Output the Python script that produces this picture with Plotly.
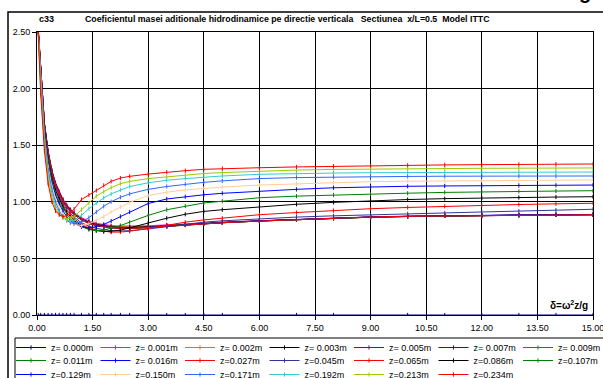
import plotly.graph_objects as go

# x grid (delta = omega^2 z / g)
x_vals = [0.03, 0.1, 0.2, 0.3, 0.4, 0.5, 0.6, 0.7, 0.8, 0.9, 1.0, 1.2, 1.4, 1.6, 1.8, 2.0,
          2.25, 2.5, 3.0, 3.5, 4.0, 4.5, 5.0, 6, 7, 8, 9, 10, 11, 12, 13, 14, 15]

z_labels = ["z= 0.000m", "z= 0.001m", "z= 0.002m", "z= 0.003m", "z= 0.005m", "z= 0.007m",
            "z= 0.009m", "z= 0.011m", "z= 0.016m", "z=0.027m", "z=0.045m", "z=0.065m",
            "z=0.086m", "z=0.107m", "z=0.129m", "z=0.150m", "z=0.171m", "z=0.192m",
            "z=0.213m", "z=0.234m"]

colors = ["#000080", "#FF00FF", "#FF6600", "#000000", "#800080", "#800000", "#008080",
          "#008000", "#0000FF", "#FF0000", "#333399", "#FF0000", "#000000", "#008000",
          "#0000FF", "#FFCC99", "#3366FF", "#33CCCC", "#99CC00", "#FF0000"]

c_z000 = [0.0] * 33
c_z001 = [2.55, 2.18, 1.70, 1.45, 1.28, 1.17, 1.09, 1.025, 0.975, 0.935, 0.905, 0.86, 0.83, 0.81, 0.797, 0.79, 0.785, 0.784, 0.788, 0.796, 0.805, 0.813, 0.82, 0.833, 0.845, 0.856, 0.865, 0.871, 0.876, 0.879, 0.882, 0.884, 0.886]
c_z002 = [2.55, 2.18, 1.70, 1.45, 1.28, 1.165, 1.085, 1.02, 0.97, 0.93, 0.90, 0.855, 0.825, 0.805, 0.792, 0.785, 0.78, 0.779, 0.784, 0.793, 0.803, 0.811, 0.819, 0.832, 0.845, 0.856, 0.865, 0.871, 0.876, 0.879, 0.882, 0.884, 0.886]
c_z003 = [2.54, 2.17, 1.69, 1.44, 1.275, 1.16, 1.08, 1.015, 0.965, 0.925, 0.895, 0.85, 0.82, 0.80, 0.787, 0.78, 0.775, 0.774, 0.78, 0.79, 0.80, 0.809, 0.817, 0.831, 0.844, 0.855, 0.864, 0.871, 0.876, 0.879, 0.882, 0.884, 0.886]
c_z005 = [2.54, 2.17, 1.69, 1.44, 1.27, 1.16, 1.08, 1.01, 0.96, 0.92, 0.89, 0.845, 0.815, 0.795, 0.783, 0.776, 0.771, 0.77, 0.776, 0.787, 0.798, 0.808, 0.816, 0.83, 0.843, 0.855, 0.864, 0.87, 0.875, 0.879, 0.882, 0.884, 0.886]
c_z007 = [2.53, 2.17, 1.69, 1.435, 1.265, 1.155, 1.075, 1.01, 0.96, 0.92, 0.888, 0.843, 0.813, 0.793, 0.78, 0.773, 0.768, 0.768, 0.774, 0.785, 0.797, 0.807, 0.815, 0.83, 0.843, 0.855, 0.864, 0.87, 0.875, 0.879, 0.882, 0.884, 0.886]
c_z009 = [2.53, 2.16, 1.685, 1.43, 1.265, 1.15, 1.07, 1.005, 0.957, 0.917, 0.886, 0.841, 0.811, 0.791, 0.778, 0.771, 0.766, 0.766, 0.773, 0.784, 0.796, 0.806, 0.815, 0.83, 0.843, 0.855, 0.865, 0.871, 0.876, 0.879, 0.882, 0.885, 0.887]
c_z011 = [2.53, 2.16, 1.685, 1.43, 1.26, 1.15, 1.07, 1.005, 0.956, 0.916, 0.885, 0.84, 0.81, 0.79, 0.777, 0.77, 0.765, 0.765, 0.772, 0.783, 0.795, 0.806, 0.815, 0.83, 0.843, 0.855, 0.865, 0.871, 0.876, 0.88, 0.883, 0.885, 0.887]
c_z016 = [2.52, 2.16, 1.68, 1.43, 1.26, 1.15, 1.07, 1.005, 0.955, 0.915, 0.885, 0.84, 0.81, 0.79, 0.778, 0.771, 0.767, 0.767, 0.774, 0.785, 0.797, 0.808, 0.817, 0.832, 0.845, 0.857, 0.867, 0.873, 0.878, 0.881, 0.884, 0.886, 0.888]
c_z027 = [2.52, 2.16, 1.68, 1.43, 1.26, 1.15, 1.07, 1.005, 0.955, 0.915, 0.885, 0.84, 0.81, 0.79, 0.778, 0.77, 0.765, 0.765, 0.772, 0.783, 0.795, 0.806, 0.815, 0.83, 0.843, 0.855, 0.866, 0.872, 0.876, 0.879, 0.882, 0.884, 0.886]
c_z045 = [2.52, 2.15, 1.66, 1.41, 1.24, 1.13, 1.05, 0.985, 0.935, 0.895, 0.865, 0.815, 0.785, 0.765, 0.752, 0.745, 0.742, 0.745, 0.76, 0.78, 0.80, 0.82, 0.832, 0.851, 0.865, 0.876, 0.886, 0.894, 0.902, 0.91, 0.918, 0.926, 0.934]
c_z065 = [2.52, 2.14, 1.65, 1.39, 1.23, 1.115, 1.035, 0.97, 0.92, 0.88, 0.85, 0.80, 0.77, 0.75, 0.738, 0.732, 0.733, 0.74, 0.765, 0.795, 0.82, 0.84, 0.855, 0.886, 0.905, 0.923, 0.939, 0.95, 0.96, 0.969, 0.976, 0.982, 0.987]
c_z086 = [2.52, 2.13, 1.64, 1.38, 1.21, 1.10, 1.02, 0.955, 0.905, 0.865, 0.835, 0.79, 0.76, 0.745, 0.738, 0.74, 0.75, 0.77, 0.815, 0.855, 0.89, 0.915, 0.93, 0.957, 0.978, 0.995, 1.010, 1.02, 1.028, 1.034, 1.038, 1.042, 1.045]
c_z107 = [2.52, 2.12, 1.62, 1.36, 1.19, 1.08, 1.0, 0.94, 0.89, 0.85, 0.82, 0.78, 0.755, 0.745, 0.75, 0.765, 0.79, 0.82, 0.88, 0.93, 0.963, 0.99, 1.005, 1.036, 1.05, 1.06, 1.069, 1.076, 1.083, 1.089, 1.092, 1.095, 1.098]
c_z129 = [2.52, 2.10, 1.60, 1.33, 1.17, 1.06, 0.98, 0.92, 0.87, 0.835, 0.81, 0.78, 0.77, 0.78, 0.80, 0.83, 0.87, 0.91, 0.985, 1.025, 1.045, 1.062, 1.075, 1.095, 1.11, 1.124, 1.133, 1.137, 1.14, 1.142, 1.144, 1.146, 1.148]
c_z150 = [2.52, 2.08, 1.58, 1.31, 1.14, 1.03, 0.95, 0.89, 0.85, 0.82, 0.80, 0.79, 0.805, 0.835, 0.87, 0.91, 0.955, 0.995, 1.055, 1.085, 1.105, 1.12, 1.13, 1.148, 1.16, 1.17, 1.178, 1.182, 1.185, 1.187, 1.189, 1.191, 1.193]
c_z171 = [2.52, 2.06, 1.56, 1.28, 1.11, 1.0, 0.92, 0.87, 0.835, 0.815, 0.81, 0.82, 0.86, 0.91, 0.96, 1.0, 1.04, 1.07, 1.11, 1.135, 1.155, 1.172, 1.185, 1.205, 1.214, 1.219, 1.222, 1.224, 1.226, 1.227, 1.228, 1.228, 1.228]
c_z192 = [2.52, 2.03, 1.53, 1.25, 1.08, 0.97, 0.90, 0.86, 0.84, 0.83, 0.835, 0.88, 0.94, 0.99, 1.035, 1.07, 1.105, 1.135, 1.168, 1.19, 1.205, 1.218, 1.228, 1.243, 1.25, 1.254, 1.257, 1.259, 1.26, 1.261, 1.262, 1.263, 1.263]
c_z213 = [2.52, 2.0, 1.50, 1.21, 1.04, 0.94, 0.89, 0.86, 0.85, 0.855, 0.87, 0.93, 0.99, 1.05, 1.09, 1.125, 1.16, 1.18, 1.205, 1.222, 1.237, 1.25, 1.258, 1.272, 1.28, 1.286, 1.29, 1.293, 1.295, 1.296, 1.297, 1.298, 1.299]
c_z234 = [2.5, 1.95, 1.45, 1.16, 1.0, 0.92, 0.885, 0.87, 0.875, 0.90, 0.935, 1.02, 1.06, 1.10, 1.145, 1.18, 1.21, 1.225, 1.245, 1.262, 1.275, 1.287, 1.293, 1.301, 1.308, 1.314, 1.319, 1.323, 1.326, 1.328, 1.330, 1.332, 1.334]

series = [c_z000, c_z001, c_z002, c_z003, c_z005, c_z007, c_z009, c_z011, c_z016, c_z027,
          c_z045, c_z065, c_z086, c_z107, c_z129, c_z150, c_z171, c_z192, c_z213, c_z234]

x_ticks = [0, 1.5, 3, 4.5, 6, 7.5, 9, 10.5, 12, 13.5, 15]
y_ticks = [0, 0.5, 1.0, 1.5, 2.0, 2.5]

FONT = "Liberation Sans, Arial, sans-serif"
W, H = 603, 378
ML, MR, MT, MB = 37, 10, 32, 63
PW, PH = W - ML - MR, H - MT - MB

def px_x(p):
    return (p - ML) / PW

def px_y(p):
    return (H - MB - p) / PH

legend_ids = ["legend", "legend2", "legend3"]

fig = go.Figure()
for i, (name, col, ys) in enumerate(zip(z_labels, colors, series)):
    fig.add_trace(go.Scatter(
        x=x_vals, y=ys, name=name, mode="lines+markers",
        line=dict(color=col, width=1),
        marker=dict(symbol="line-ns-open", size=3, color=col, line=dict(color=col, width=1)),
        legend=legend_ids[i // 7],
    ))

def legend_row(top_px):
    return dict(
        orientation="h", x=px_x(11), xanchor="left", y=px_y(top_px), yanchor="top",
        borderwidth=0, bgcolor="rgba(0,0,0,0)",
        entrywidth=39.5, entrywidthmode="pixels",
        font=dict(family=FONT, size=9), traceorder="normal",
    )

fig.update_layout(
    width=W, height=H,
    margin=dict(l=ML, r=MR, t=MT, b=MB, autoexpand=False),
    paper_bgcolor="white", plot_bgcolor="white",
    font=dict(family=FONT, size=9, color="black"),
    showlegend=True,
    legend=legend_row(333),
    legend2=legend_row(346),
    legend3=legend_row(360),
    xaxis=dict(
        range=[0, 15], tickvals=x_ticks, tickformat=".2f",
        showgrid=True, gridcolor="black", gridwidth=1,
        showline=True, linecolor="black", linewidth=1, mirror=True,
        ticks="outside", ticklen=4, tickcolor="black", zeroline=False,
        tickfont=dict(family=FONT, size=9), ticklabeloverflow="allow",
    ),
    yaxis=dict(
        range=[0, 2.5], tickvals=y_ticks, tickformat=".2f",
        showgrid=True, gridcolor="black", gridwidth=1,
        showline=True, linecolor="black", linewidth=1, mirror=True,
        ticks="outside", ticklen=4, tickcolor="black", zeroline=False,
        tickfont=dict(family=FONT, size=9), ticklabeloverflow="allow",
    ),
    shapes=[
        dict(type="rect", xref="paper", yref="paper",
             x0=px_x(8), x1=px_x(640), y0=px_y(420), y1=px_y(12),
             line=dict(color="black", width=1.5), fillcolor="rgba(0,0,0,0)", layer="below"),
        dict(type="rect", xref="paper", yref="paper",
             x0=px_x(15), x1=px_x(640), y0=px_y(420), y1=px_y(338),
             line=dict(color="black", width=1), fillcolor="rgba(0,0,0,0)", layer="below"),
    ],
    annotations=[
        dict(text="<b>c33</b>", xref="paper", yref="paper", x=px_x(37), y=px_y(19),
             xanchor="left", yanchor="middle", showarrow=False, font=dict(family=FONT, size=9)),
        dict(text="<b>Coeficientul masei aditionale hidrodinamice pe directie verticala\u00a0\u00a0\u00a0Sectiunea\u00a0\u00a0x/L=0.5\u00a0\u00a0Model ITTC</b>",
             xref="paper", yref="paper", x=px_x(83), y=px_y(19),
             xanchor="left", yanchor="middle", showarrow=False, font=dict(family=FONT, size=8.8)),
        dict(text="<b>δ=ω<sup>2</sup>z/g</b>", xref="paper", yref="paper", x=px_x(590), y=px_y(305),
             xanchor="right", yanchor="middle", showarrow=False, font=dict(family=FONT, size=10)),
        dict(text="<b>g</b>", xref="paper", yref="paper", x=px_x(585), y=px_y(-8),
             xanchor="center", yanchor="middle", showarrow=False, font=dict(family=FONT, size=20)),
    ],
)

fig.write_html(
    "out.html", config={"staticPlot": True, "displayModeBar": False},
    post_script=(
        "document.body.style.margin='0';document.body.style.overflow='hidden';"
        "var st=document.createElement('style');"
        "st.textContent='.scrollbar{display:none !important;opacity:0 !important;}';"
        "document.head.appendChild(st);"
    ),
)
